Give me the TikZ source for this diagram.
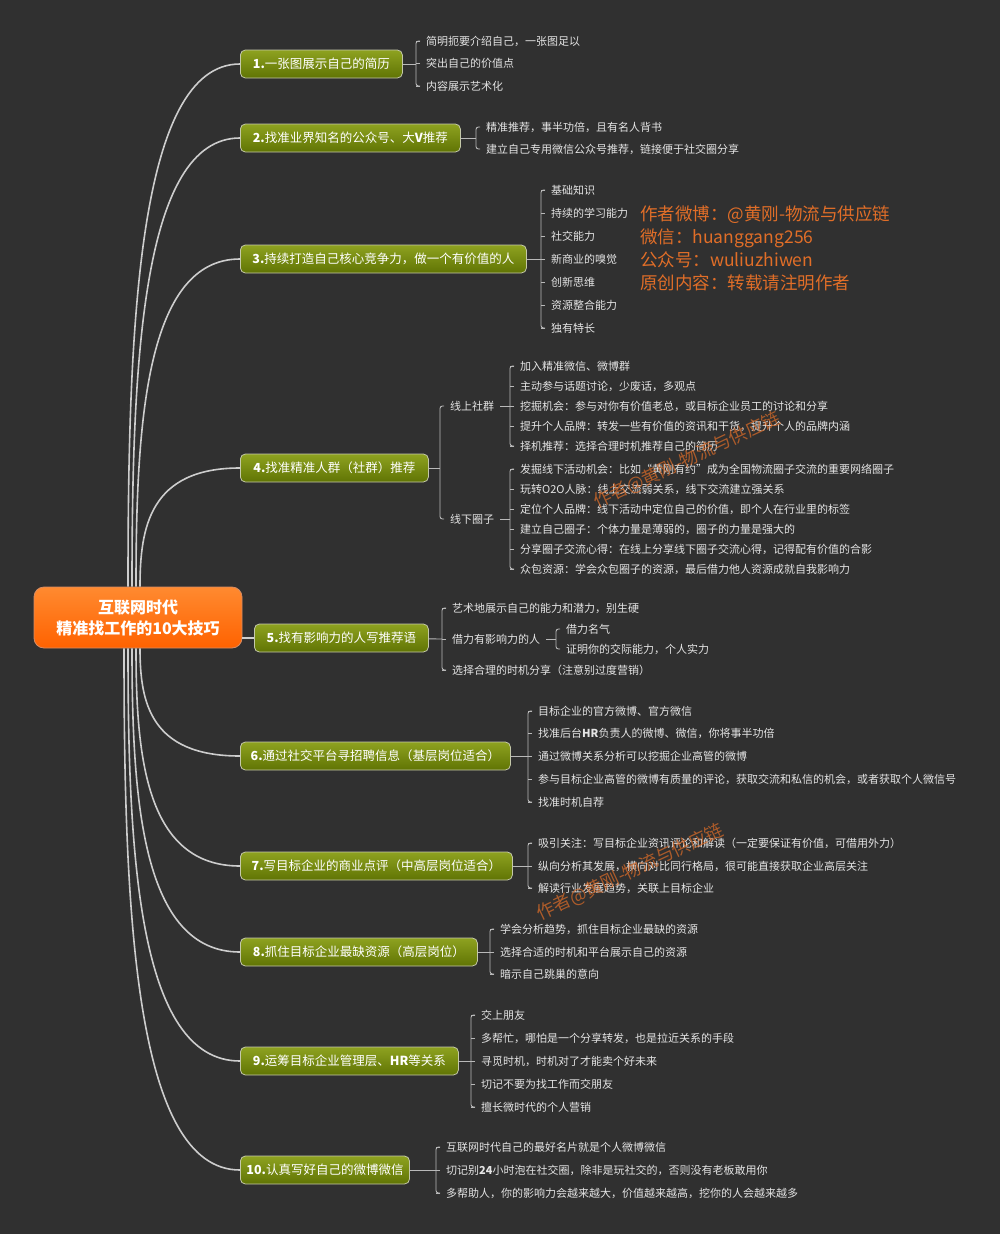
\documentclass[tikz,border=0pt]{standalone}
\usepackage{fontspec}
\setmainfont{Noto Sans CJK SC}
\definecolor{bgc}{RGB}{48,48,48}
\definecolor{linkc}{RGB}{205,205,205}
\definecolor{tiec}{RGB}{185,185,185}
\definecolor{leafc}{RGB}{228,228,228}
\definecolor{brtop}{RGB}{142,162,32}
\definecolor{brbot}{RGB}{96,116,4}
\definecolor{brline}{RGB}{196,200,170}
\definecolor{roottop}{RGB}{255,138,48}
\definecolor{rootbot}{RGB}{255,98,0}
\definecolor{rootline}{RGB}{215,140,100}
\definecolor{wmc}{RGB}{225,110,40}
\tikzset{
  link/.style={draw=linkc,line width=1.6pt},
  tie/.style={draw=tiec,line width=0.9pt,rounded corners=2.5pt},
  leaf/.style={anchor=west,text=leafc,font=\fontsize{11}{13}\selectfont,inner xsep=6pt,inner ysep=1pt},
  branch/.style={anchor=west,draw=brline,line width=0.8pt,rounded corners=5pt,top color=brtop,bottom color=brbot,text=white,font=\fontsize{12.5}{15}\selectfont,minimum height=28pt,inner xsep=6pt},
  rootbox/.style={draw=rootline,line width=0.8pt,rounded corners=10pt,top color=roottop,bottom color=rootbot,text=white,font=\bfseries\fontsize{16}{21}\selectfont,align=center,minimum width=208pt,minimum height=61pt},
  wmtext/.style={anchor=west,inner xsep=0pt,text=wmc,font=\fontsize{17.5}{20}\selectfont},
  wmdiag/.style={text=wmc,opacity=0.7,rotate=25,font=\fontsize{18}{20}\selectfont}
}
\begin{document}
\begin{tikzpicture}[x=1pt,y=-1pt]
 \fill[bgc] (0,0) rectangle (1000,1234);
 \useasboundingbox (0,0) rectangle (1000,1234);
 %
 \node[rootbox] (root) at (138,617.5) {互联网时代\\精准找工作的10大技巧};
 %
 \node[branch,minimum width=162pt] (b1) at (240,64) {\textbf{1.}一张图展示自己的简历};
 \node[branch,minimum width=220pt] (b2) at (240,138) {\textbf{2.}找准业界知名的公众号、大\textbf{V}推荐};
 \node[branch,minimum width=286pt] (b3) at (240,259) {\textbf{3.}持续打造自己核心竞争力，做一个有价值的人};
 \node[branch,minimum width=188pt] (b4) at (240,468) {\textbf{4.}找准精准人群（社群）推荐};
 \node[branch,minimum width=174pt] (b5) at (254,638) {\textbf{5.}找有影响力的人写推荐语};
 \node[branch,minimum width=270pt] (b6) at (240,756) {\textbf{6.}通过社交平台寻招聘信息（基层岗位适合）};
 \node[branch,minimum width=272pt] (b7) at (240,866) {\textbf{7.}写目标企业的商业点评（中高层岗位适合）};
 \node[branch,minimum width=237pt] (b8) at (240,952) {\textbf{8.}抓住目标企业最缺资源（高层岗位）};
 \node[branch,minimum width=218pt] (b9) at (240,1061) {\textbf{9.}运筹目标企业管理层、\textbf{HR}等关系};
 \node[branch,minimum width=161pt] (b10) at (240,1170) {\textbf{10.}认真写好自己的微博微信};
 %
 \draw[link] ([xshift=-10pt]root.north) .. controls (128,326) and (138,64) .. (b1.west);
 \draw[link] ([xshift=-6pt]root.north) .. controls (132,362) and (142,138) .. (b2.west);
 \draw[link] ([xshift=-2pt]root.north) .. controls (136,423) and (146,259) .. (b3.west);
 \draw[link] ([xshift=2pt]root.north) .. controls (140,527) and (150,468) .. (b4.west);
 \draw[link] (root.east |- b5.west) -- (b5.west);
 \draw[link] ([xshift=2pt]root.south) .. controls (140,702) and (150,756) .. (b6.west);
 \draw[link] ([xshift=-2pt]root.south) .. controls (136,757) and (146,866) .. (b7.west);
 \draw[link] ([xshift=-6pt]root.south) .. controls (132,800) and (142,952) .. (b8.west);
 \draw[link] ([xshift=-10pt]root.south) .. controls (128,854) and (138,1061) .. (b9.west);
 \draw[link] ([xshift=-14pt]root.south) .. controls (124,909) and (134,1170) .. (b10.west);
 %
 % 1
 \coordinate (k1) at (416,64);
 \foreach \y/\t [count=\i] in {41/{简明扼要介绍自己，一张图足以},63/{突出自己的价值点},86/{内容展示艺术化}}
  \node[leaf] (b1l\i) at (420,\y) {\t};
 \foreach \i in {1,...,3} \draw[tie] (b1l\i.west) -- (k1 |- b1l\i.west);
 \draw[tie] (b1l1.west) -| (k1) |- (b1l3.west);
 \draw[tie] (b1) -- (k1);
 % 2
 \coordinate (k2) at (476,138);
 \foreach \y/\t [count=\i] in {127/{精准推荐，事半功倍，且有名人背书},149/{建立自己专用微信公众号推荐，链接便于社交圈分享}}
  \node[leaf] (b2l\i) at (480,\y) {\t};
 \draw[tie] (b2l1.west) -| (k2) |- (b2l2.west);
 \draw[tie] (b2) -- (k2);
 % 3
 \coordinate (k3) at (541,259);
 \foreach \y/\t [count=\i] in {190/{基础知识},213/{持续的学习能力},236/{社交能力},259/{新商业的嗅觉},282/{创新思维},305/{资源整合能力},328/{独有特长}}
  \node[leaf] (b3l\i) at (545,\y) {\t};
 \foreach \i in {1,...,7} \draw[tie] (b3l\i.west) -- (k3 |- b3l\i.west);
 \draw[tie] (b3l1.west) -| (k3) |- (b3l7.west);
 \draw[tie] (b3) -- (k3);
 % 4
 \coordinate (k4) at (440,468);
 \node[leaf] (s1) at (444,406) {线上社群};
 \node[leaf] (s2) at (444,519) {线下圈子};
 \draw[tie] (s1.west) -| (k4) |- (s2.west);
 \draw[tie] (b4) -- (k4);
 \coordinate (k4a) at (510,406);
 \foreach \y/\t [count=\i] in {366/{加入精准微信、微博群},386/{主动参与话题讨论，少废话，多观点},406/{挖掘机会：参与对你有价值老总，或目标企业员工的讨论和分享},426/{提升个人品牌：转发一些有价值的资讯和干货，提升个人的品牌内涵},446/{择机推荐：选择合理时机推荐自己的简历}}
  \node[leaf] (s1l\i) at (514,\y) {\t};
 \foreach \i in {1,...,5} \draw[tie] (s1l\i.west) -- (k4a |- s1l\i.west);
 \draw[tie] (s1l1.west) -| (k4a) |- (s1l5.west);
 \draw[tie] (s1) -- (k4a);
 \coordinate (k4b) at (510,519);
 \foreach \y/\t [count=\i] in {469/{发掘线下活动机会：比如“黄刚有约”成为全国物流圈子交流的重要网络圈子},489/{玩转O2O人脉：线上交流弱关系，线下交流建立强关系},509/{定位个人品牌：线下活动中定位自己的价值，即个人在行业里的标签},529/{建立自己圈子：个体力量是薄弱的，圈子的力量是强大的},549/{分享圈子交流心得：在线上分享线下圈子交流心得，记得配有价值的合影},569/{众包资源：学会众包圈子的资源，最后借力他人资源成就自我影响力}}
  \node[leaf] (s2l\i) at (514,\y) {\t};
 \foreach \i in {1,...,6} \draw[tie] (s2l\i.west) -- (k4b |- s2l\i.west);
 \draw[tie] (s2l1.west) -| (k4b) |- (s2l6.west);
 \draw[tie] (s2) -- (k4b);
 % 5
 \coordinate (k5) at (442,639);
 \foreach \y/\t [count=\i] in {608/{艺术地展示自己的能力和潜力，别生硬},639/{借力有影响力的人},670/{选择合理的时机分享（注意别过度营销）}}
  \node[leaf] (b5l\i) at (446,\y) {\t};
 \foreach \i in {1,...,3} \draw[tie] (b5l\i.west) -- (k5 |- b5l\i.west);
 \draw[tie] (b5l1.west) -| (k5) |- (b5l3.west);
 \draw[tie] (b5) -- (k5);
 \coordinate (k5a) at (556,639);
 \foreach \y/\t [count=\i] in {629/{借力名气},649/{证明你的交际能力，个人实力}}
  \node[leaf] (b5s\i) at (560,\y) {\t};
 \draw[tie] (b5s1.west) -| (k5a) |- (b5s2.west);
 \draw[tie] (b5l2) -- (k5a);
 % 6
 \coordinate (k6) at (528,756);
 \foreach \y/\t [count=\i] in {711/{目标企业的官方微博、官方微信},733/{找准后台\textbf{HR}负责人的微博、微信，你将事半功倍},756/{通过微博关系分析可以挖掘企业高管的微博},779/{参与目标企业高管的微博有质量的评论，获取交流和私信的机会，或者获取个人微信号},802/{找准时机自荐}}
  \node[leaf] (b6l\i) at (532,\y) {\t};
 \foreach \i in {1,...,5} \draw[tie] (b6l\i.west) -- (k6 |- b6l\i.west);
 \draw[tie] (b6l1.west) -| (k6) |- (b6l5.west);
 \draw[tie] (b6) -- (k6);
 % 7
 \coordinate (k7) at (528,866);
 \foreach \y/\t [count=\i] in {843/{吸引关注：写目标企业资讯评论和解读（一定要保证有价值，可借用外力）},866/{纵向分析其发展，横向对比同行格局，很可能直接获取企业高层关注},888/{解读行业发展趋势，关联上目标企业}}
  \node[leaf] (b7l\i) at (532,\y) {\t};
 \foreach \i in {1,...,3} \draw[tie] (b7l\i.west) -- (k7 |- b7l\i.west);
 \draw[tie] (b7l1.west) -| (k7) |- (b7l3.west);
 \draw[tie] (b7) -- (k7);
 % 8
 \coordinate (k8) at (490,952);
 \foreach \y/\t [count=\i] in {929/{学会分析趋势，抓住目标企业最缺的资源},952/{选择合适的时机和平台展示自己的资源},974/{暗示自己跳巢的意向}}
  \node[leaf] (b8l\i) at (494,\y) {\t};
 \foreach \i in {1,...,3} \draw[tie] (b8l\i.west) -- (k8 |- b8l\i.west);
 \draw[tie] (b8l1.west) -| (k8) |- (b8l3.west);
 \draw[tie] (b8) -- (k8);
 % 9
 \coordinate (k9) at (471,1061);
 \foreach \y/\t [count=\i] in {1015/{交上朋友},1038/{多帮忙，哪怕是一个分享转发，也是拉近关系的手段},1061/{寻觅时机，时机对了才能卖个好未来},1084/{切记不要为找工作而交朋友},1107/{擅长微时代的个人营销}}
  \node[leaf] (b9l\i) at (475,\y) {\t};
 \foreach \i in {1,...,5} \draw[tie] (b9l\i.west) -- (k9 |- b9l\i.west);
 \draw[tie] (b9l1.west) -| (k9) |- (b9l5.west);
 \draw[tie] (b9) -- (k9);
 % 10
 \coordinate (k10) at (436,1170);
 \foreach \y/\t [count=\i] in {1147/{互联网时代自己的最好名片就是个人微博微信},1170/{切记别\textbf{24}小时泡在社交圈，除非是玩社交的，否则没有老板敢用你},1193/{多帮助人，你的影响力会越来越大，价值越来越高，挖你的人会越来越多}}
  \node[leaf] (b10l\i) at (440,\y) {\t};
 \foreach \i in {1,...,3} \draw[tie] (b10l\i.west) -- (k10 |- b10l\i.west);
 \draw[tie] (b10l1.west) -| (k10) |- (b10l3.west);
 \draw[tie] (b10) -- (k10);
 %
 % watermarks
 \foreach \y/\t [count=\i] in {215/{作者微博：@黄刚-物流与供应链},238/{微信：huanggang256},260/{公众号：wuliuzhiwen},283/{原创内容：转载请注明作者}}
  \node[wmtext] (wm\i) at (640,\y) {\t};
 \node[wmdiag] (wd1) at (687,460) {作者@黄刚-物流与供应链};
 \node[wmdiag] (wd2) at (630,872) {作者@黄刚-物流与供应链};
\end{tikzpicture}
\end{document}
